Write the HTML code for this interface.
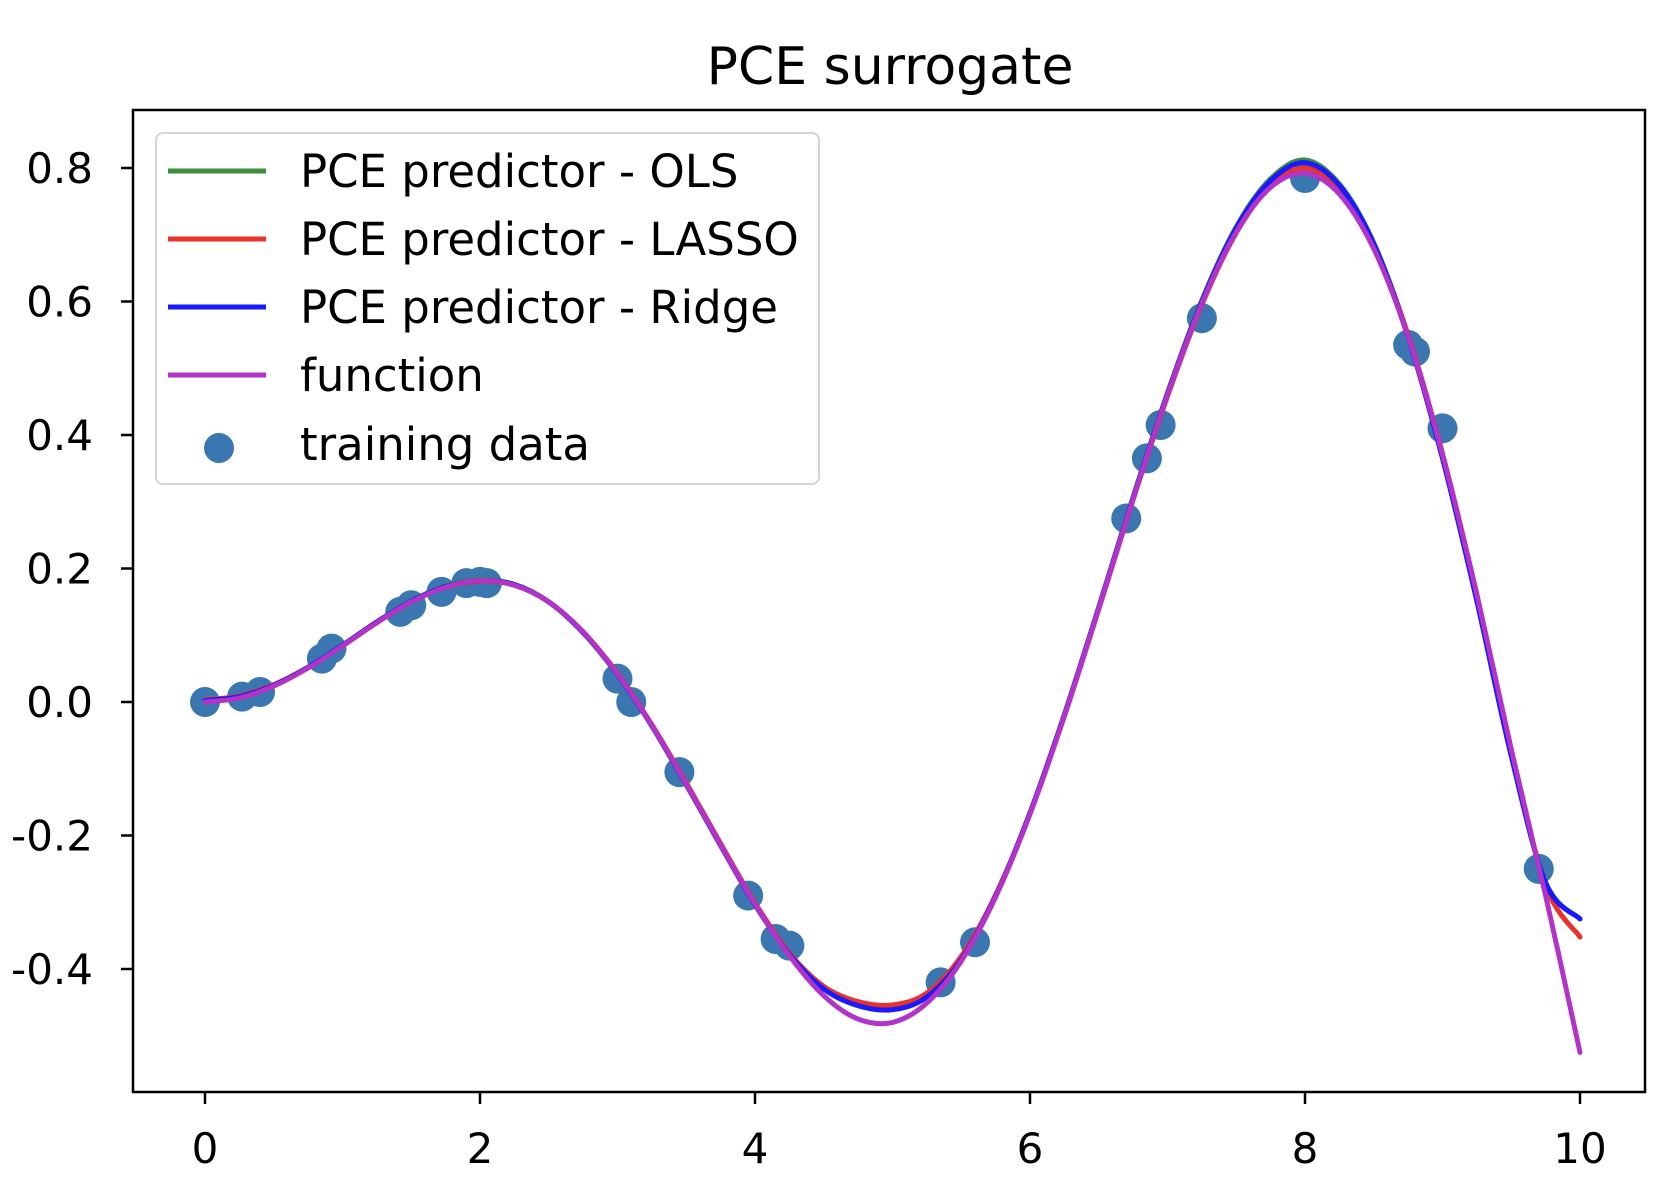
<!DOCTYPE html>
<html><head><meta charset="utf-8">
<style>
html,body{margin:0;padding:0;background:#fff;}
svg{display:block;font-family:"DejaVu Sans","Liberation Sans",sans-serif;}
</style></head>
<body>
<svg id="chart" width="1676" height="1192" viewBox="0 0 1676 1192" xmlns="http://www.w3.org/2000/svg">
<rect x="0" y="0" width="1676" height="1192" fill="#fff"/>
<text x="890" y="84" font-size="52" text-anchor="middle" fill="#000">PCE surrogate</text>
<g id="plot"></g>
<rect x="133" y="110" width="1512" height="982" fill="none" stroke="#000" stroke-width="2.5"/>
<g id="xaxis"></g>
<g id="yaxis"></g>
<g>
  <rect x="156" y="133" width="663" height="351" rx="7" fill="#fff" fill-opacity="0.8" stroke="#d5d5d5" stroke-width="2"/>
  <line x1="168" y1="171" x2="266" y2="171" stroke="#3f8f3f" stroke-width="5"/>
  <text x="300" y="187" font-size="45">PCE predictor - OLS</text>
  <line x1="168" y1="239" x2="266" y2="239" stroke="#e8322c" stroke-width="5"/>
  <text x="300" y="255" font-size="45">PCE predictor - LASSO</text>
  <line x1="168" y1="307" x2="266" y2="307" stroke="#1a1aff" stroke-width="5"/>
  <text x="300" y="323" font-size="45">PCE predictor - Ridge</text>
  <line x1="168" y1="375" x2="266" y2="375" stroke="#b233c8" stroke-width="5"/>
  <text x="300" y="391" font-size="45">function</text>
  <circle cx="219" cy="448" r="15" fill="#3a76b0"/>
  <text x="300" y="460" font-size="45">training data</text>
</g>
</svg>
<script>
const xGrid = [0,0.25,0.5,0.75,1,1.25,1.5,1.75,2,2.25,2.5,2.75,3,3.25,3.5,3.75,4,4.25,4.5,4.75,5,5.25,5.5,5.75,6,6.25,6.5,6.75,7,7.25,7.5,7.75,8,8.25,8.5,8.75,9,9.25,9.5,9.75,10];
const funcVals = [0,0.006,0.024,0.051,0.084,0.119,0.150,0.172,0.182,0.175,0.150,0.105,0.042,-0.035,-0.123,-0.214,-0.303,-0.380,-0.440,-0.475,-0.480,-0.451,-0.388,-0.292,-0.168,-0.021,0.140,0.304,0.460,0.597,0.704,0.771,0.792,0.761,0.679,0.547,0.371,0.161,-0.071,-0.290,-0.525];
const olsVals = [0.002,0.008,0.025,0.052,0.085,0.120,0.151,0.174,0.183,0.176,0.150,0.104,0.041,-0.036,-0.124,-0.215,-0.303,-0.377,-0.428,-0.452,-0.458,-0.440,-0.384,-0.290,-0.166,-0.019,0.142,0.307,0.463,0.602,0.712,0.784,0.812,0.776,0.688,0.548,0.366,0.152,-0.080,-0.270,-0.325];
const lassoVals = [0.003,0.009,0.026,0.052,0.084,0.119,0.150,0.172,0.181,0.175,0.150,0.105,0.043,-0.034,-0.121,-0.212,-0.301,-0.376,-0.426,-0.449,-0.454,-0.436,-0.381,-0.289,-0.167,-0.021,0.139,0.303,0.458,0.595,0.703,0.773,0.800,0.768,0.684,0.550,0.372,0.160,-0.072,-0.275,-0.352];
const ridgeVals = [0.002,0.008,0.025,0.052,0.085,0.120,0.151,0.173,0.182,0.176,0.150,0.104,0.041,-0.036,-0.124,-0.215,-0.304,-0.378,-0.430,-0.455,-0.461,-0.442,-0.386,-0.291,-0.166,-0.019,0.142,0.306,0.462,0.600,0.710,0.781,0.808,0.774,0.686,0.546,0.365,0.151,-0.081,-0.271,-0.325];
const trainX = [0,0.27,0.4,0.85,0.92,1.42,1.5,1.72,1.9,2.0,2.05,3.0,3.1,3.45,3.95,4.15,4.25,5.35,5.6,6.7,6.85,6.95,7.25,8.0,8.75,8.8,9.0,9.7];
const trainY = [0,0.008,0.015,0.065,0.08,0.135,0.145,0.165,0.178,0.18,0.178,0.035,0.0,-0.105,-0.29,-0.355,-0.365,-0.42,-0.36,0.275,0.365,0.415,0.575,0.785,0.535,0.525,0.41,-0.25];
const xTicks = [0,2,4,6,8,10];
const yTicks = [-0.4,-0.2,0.0,0.2,0.4,0.6,0.8];
const yTickLabels = ["-0.4","-0.2","0.0","0.2","0.4","0.6","0.8"];

const NS = "http://www.w3.org/2000/svg";
function sx(v){return 205 + v*137.5;}
function sy(v){return 702 - v*667.5;}
function mk(tag, attrs, parent){const e=document.createElementNS(NS,tag);for(const k in attrs)e.setAttribute(k,attrs[k]);parent.appendChild(e);return e;}

const plot = document.getElementById('plot');
trainX.forEach((x,i)=>{
  const c = mk('circle',{cx:sx(x),cy:sy(trainY[i]),r:15,fill:'#3a76b0'},plot);
  
  
});
function line(vals, color, name){
  const pts = xGrid.map((x,i)=>[sx(x),sy(vals[i])]);
  let d = 'M'+pts[0][0].toFixed(1)+' '+pts[0][1].toFixed(1);
  for(let i=0;i<pts.length-1;i++){
    const p0=pts[Math.max(0,i-1)],p1=pts[i],p2=pts[i+1],p3=pts[Math.min(pts.length-1,i+2)];
    const c1=[p1[0]+(p2[0]-p0[0])/6,p1[1]+(p2[1]-p0[1])/6];
    const c2=[p2[0]-(p3[0]-p1[0])/6,p2[1]-(p3[1]-p1[1])/6];
    d+=' C'+c1[0].toFixed(1)+' '+c1[1].toFixed(1)+' '+c2[0].toFixed(1)+' '+c2[1].toFixed(1)+' '+p2[0].toFixed(1)+' '+p2[1].toFixed(1);
  }
  const p = mk('path',{d:d,fill:'none',stroke:color,'stroke-width':5,'stroke-linejoin':'round','stroke-linecap':'round'},plot);
  
  
}
line(olsVals,'#3f8f3f','ols-predictor-line');
line(lassoVals,'#e8322c','lasso-predictor-line');
line(ridgeVals,'#1a1aff','ridge-predictor-line');
line(funcVals,'#b233c8','function-line');

const xa = document.getElementById('xaxis');
xTicks.forEach(t=>{
  const l = mk('line',{x1:sx(t),y1:1092,x2:sx(t),y2:1104,stroke:'#000','stroke-width':2.5},xa);
  
  
  const tx = mk('text',{x:sx(t),y:1163,'font-size':42,'text-anchor':'middle',fill:'#000'},xa);
  tx.textContent = String(t);
  
  
});
const ya = document.getElementById('yaxis');
yTicks.forEach((t,i)=>{
  const l = mk('line',{x1:121,y1:sy(t),x2:133,y2:sy(t),stroke:'#000','stroke-width':2.5},ya);
  
  
  const tx = mk('text',{x:93,y:sy(t)+15,'font-size':42,'text-anchor':'end',fill:'#000'},ya);
  tx.textContent = yTickLabels[i];
  
  
});
</script>
</body></html>
